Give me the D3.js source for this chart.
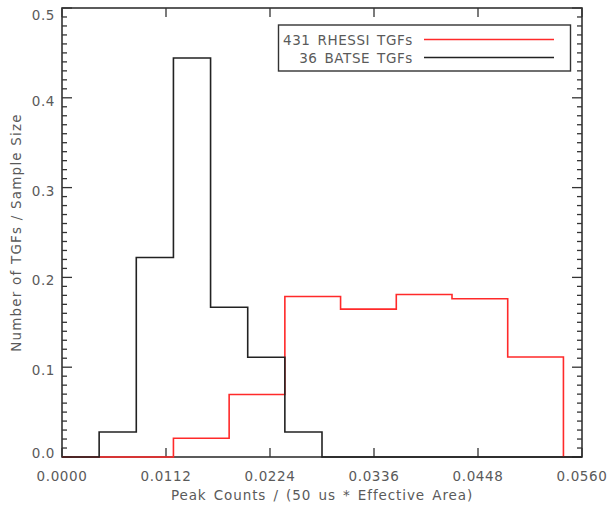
<!DOCTYPE html>
<html><head><meta charset="utf-8">
<script src="https://cdn.jsdelivr.net/npm/d3@7"></script>
<style>
body{margin:0;background:#fff;}
text{font-family:"DejaVu Sans",sans-serif;fill:#5a5a5a;}
</style></head><body>
<svg id="c" width="607" height="508"></svg>
<script>
const xTicks = [0.0000, 0.0112, 0.0224, 0.0336, 0.0448, 0.0560];
const xTickLabels = ["0.0000","0.0112","0.0224","0.0336","0.0448","0.0560"];
const yTicks = [0.0,0.1,0.2,0.3,0.4,0.5];
const yTickLabels = ["0.0","0.1","0.2","0.3","0.4","0.5"];
// histogram bin edges and values
const batseEdges = [0.000,0.004,0.008,0.012,0.016,0.020,0.024,0.028,0.056];
const batseValues = [0,0.0278,0.2222,0.4444,0.1667,0.1111,0.0278,0];
const rhessiEdges = [0.000,0.006,0.012,0.018,0.024,0.030,0.036,0.042,0.048,0.054];
const rhessiValues = [0,0,0.0209,0.0696,0.1787,0.1647,0.1810,0.1763,0.1114];
const legendLabels = ["431 RHESSI TGFs","36 BATSE TGFs"];
const seriesColors = ["#ff2a2a","#222222"];

const svg = d3.select("#c");
const L=62, R=582, T=8, B=457;
const x = d3.scaleLinear().domain([0,0.056]).range([L,R]);
const y = d3.scaleLinear().domain([0,0.5]).range([B,T]);

// frame
const g = svg.append("g");
g.append("rect").attr("x",L).attr("y",T).attr("width",R-L).attr("height",B-T)
  .attr("fill","none").attr("stroke","#333").attr("stroke-width",1.6);

// y ticks (major & minor) left & right
const yMinor = d3.range(0,51).map(i=>i/100);
yMinor.forEach((v,i)=>{
  const len = (i%10===0)?10:5;
  g.append("line").attr("x1",L).attr("x2",L+len).attr("y1",y(v)).attr("y2",y(v)).attr("stroke","#333").attr("stroke-width",1.3);
  g.append("line").attr("x1",R).attr("x2",R-len).attr("y1",y(v)).attr("y2",y(v)).attr("stroke","#333").attr("stroke-width",1.3);
});
// x ticks bottom & top
xTicks.forEach(v=>{
  g.append("line").attr("x1",x(v)).attr("x2",x(v)).attr("y1",B).attr("y2",B-9).attr("stroke","#333").attr("stroke-width",1.3);
  g.append("line").attr("x1",x(v)).attr("x2",x(v)).attr("y1",T).attr("y2",T+9).attr("stroke","#333").attr("stroke-width",1.3);
});
// labels
xTicks.forEach((v,i)=>{
  g.append("text").attr("x",x(v)).attr("y",481).attr("text-anchor","middle")
   .attr("font-size",13.5).attr("letter-spacing",0.6).text(xTickLabels[i]);
});
yTicks.forEach((v,i)=>{
  const cy = Math.max(T+7, Math.min(B-4, y(v)+3));
  g.append("text").attr("x",55).attr("y",cy+5).attr("text-anchor","end")
   .attr("font-size",13.5).attr("letter-spacing",0.6).text(yTickLabels[i]);
});
g.append("text").attr("x",(L+R)/2).attr("y",500).attr("text-anchor","middle")
  .attr("font-size",13.5).attr("letter-spacing",0.9).attr("word-spacing",2).text("Peak Counts / (50 us * Effective Area)");
g.append("text").attr("transform",`translate(21,${(T+B)/2}) rotate(-90)`).attr("text-anchor","middle")
  .attr("font-size",13.5).attr("letter-spacing",1.2).text("Number of TGFs / Sample Size");

// step paths
function stepPath(edges, vals){
  const pts=[];
  for(let i=0;i<vals.length;i++){
    pts.push([x(edges[i]),y(vals[i])]);
    pts.push([x(edges[i+1]),y(vals[i])]);
  }
  pts.push([x(edges[edges.length-1]),y(0)]);
  return d3.line()(pts);
}
svg.append("path").attr("d",stepPath(rhessiEdges,rhessiValues)).attr("fill","none")
  .attr("stroke",seriesColors[0]).attr("stroke-width",1.6);
svg.append("path").attr("d",stepPath(batseEdges,batseValues)).attr("fill","none")
  .attr("stroke",seriesColors[1]).attr("stroke-width",1.6);

// legend
const lg = svg.append("g");
lg.append("rect").attr("x",278.5).attr("y",25).attr("width",292).attr("height",46)
  .attr("fill","#fff").attr("stroke","#333").attr("stroke-width",1.4);
legendLabels.forEach((t,i)=>{
  const yy = 39.5 + i*18;
  lg.append("text").attr("x",413).attr("y",yy+5).attr("text-anchor","end")
    .attr("font-size",13.5).attr("letter-spacing",0.6).attr("word-spacing",2).text(t);
  lg.append("line").attr("x1",424).attr("x2",554).attr("y1",yy).attr("y2",yy)
    .attr("stroke",seriesColors[i]).attr("stroke-width",1.6);
});
</script></body></html>
